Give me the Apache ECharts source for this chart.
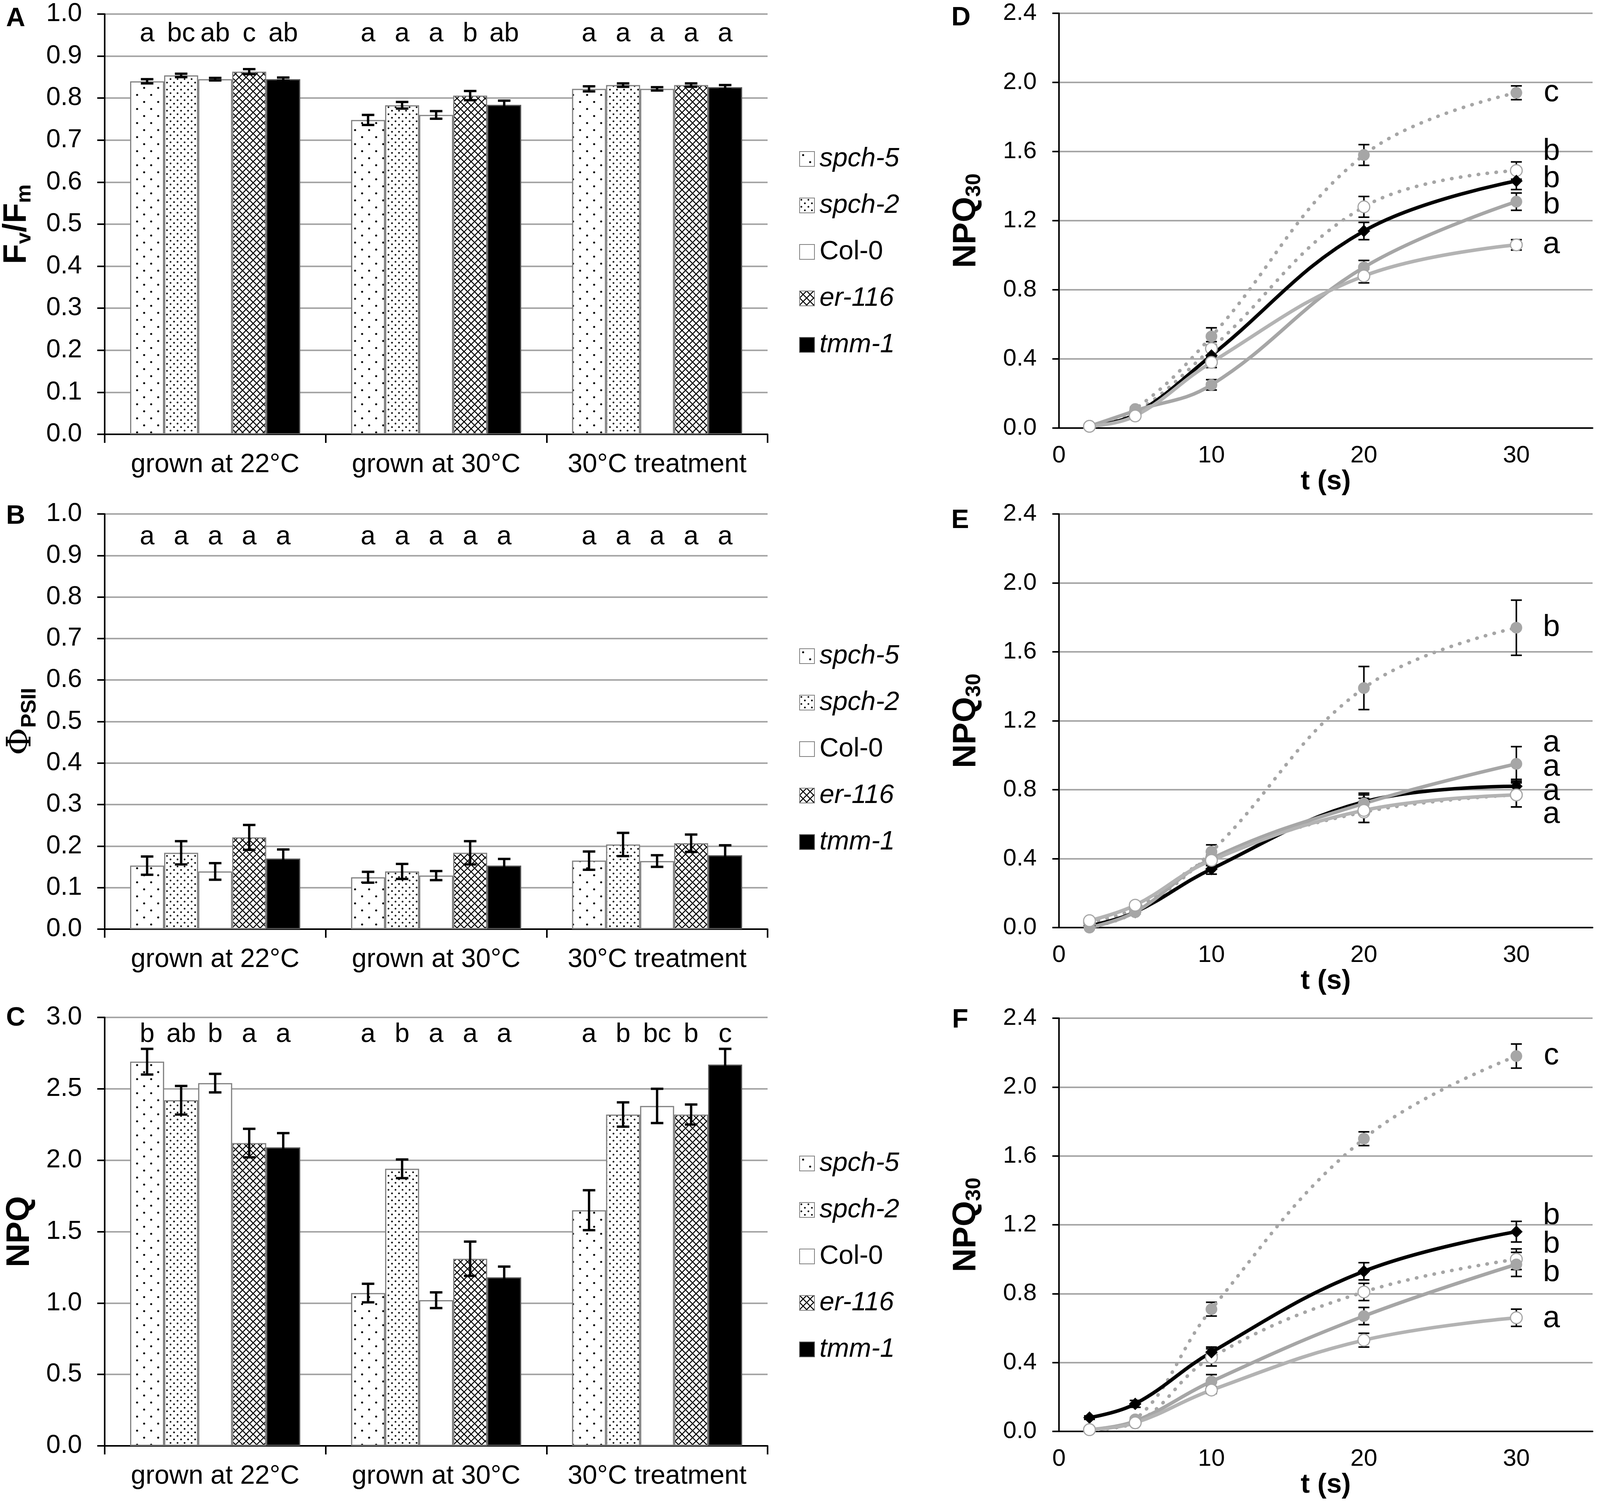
<!DOCTYPE html>
<html>
<head>
<meta charset="utf-8">
<script src="https://cdn.jsdelivr.net/npm/echarts@6/dist/echarts.min.js"></script>
<style>
html, body { margin: 0; padding: 0; background: #fff; }
#chart { width: 4550px; height: 3856px; }
</style>
</head>
<body>
<div id="chart"></div>
<script>
// genotypes and categories
let genotypes = ["spch-5", "spch-2", "Col-0", "er-116", "tmm-1"];
let conditions = ["grown at 22°C", "grown at 30°C", "30°C treatment"];
let times = [2, 5, 10, 20, 30];

// A - Fv/Fm, rows = genotype, cols = condition
let fvfmMean = [
    [0.840, 0.748, 0.822],
    [0.854, 0.783, 0.831],
    [0.845, 0.760, 0.822],
    [0.863, 0.806, 0.831],
    [0.845, 0.784, 0.826]
];
let fvfmErr = [
    [0.005, 0.012, 0.006],
    [0.004, 0.008, 0.004],
    [0.003, 0.009, 0.004],
    [0.006, 0.011, 0.004],
    [0.004, 0.010, 0.005]
];
// letters, rows = condition, cols = genotype
let fvfmLetters = [["a", "bc", "ab", "c", "ab"], ["a", "a", "a", "b", "ab"], ["a", "a", "a", "a", "a"]];

// B - PhiPSII
let psiiMean = [
    [0.153, 0.125, 0.165],
    [0.184, 0.139, 0.204],
    [0.139, 0.129, 0.164],
    [0.221, 0.184, 0.207],
    [0.170, 0.153, 0.178]
];
let psiiErr = [
    [0.022, 0.013, 0.022],
    [0.028, 0.018, 0.028],
    [0.020, 0.011, 0.014],
    [0.030, 0.028, 0.021],
    [0.022, 0.016, 0.024]
];
let psiiLetters = [["a", "a", "a", "a", "a"], ["a", "a", "a", "a", "a"], ["a", "a", "a", "a", "a"]];

// C - NPQ
let npqMean = [
    [2.69, 1.07, 1.65],
    [2.42, 1.94, 2.32],
    [2.54, 1.02, 2.38],
    [2.12, 1.31, 2.32],
    [2.09, 1.18, 2.67]
];
let npqErr = [
    [0.09, 0.065, 0.14],
    [0.10, 0.065, 0.085],
    [0.065, 0.055, 0.12],
    [0.10, 0.12, 0.07],
    [0.10, 0.075, 0.11]
];
let npqLetters = [["b", "ab", "b", "a", "a"], ["a", "b", "a", "a", "a"], ["a", "b", "bc", "b", "c"]];

// D/E/F - NPQ30 over time, rows = genotype
let npqD = [
    [0.01, 0.09, 0.46, 1.28, 1.49],
    [0.01, 0.11, 0.53, 1.58, 1.94],
    [0.01, 0.08, 0.42, 1.14, 1.43],
    [0.01, 0.10, 0.25, 0.93, 1.31],
    [0.01, 0.07, 0.38, 0.88, 1.06]
];
let npqDErr = [
    [0, 0.01, 0.04, 0.06, 0.05],
    [0, 0.01, 0.05, 0.06, 0.04],
    [0, 0.01, 0.03, 0.05, 0.05],
    [0, 0.01, 0.03, 0.04, 0.05],
    [0, 0.01, 0.03, 0.04, 0.03]
];
let npqE = [
    [0.03, 0.11, 0.40, 0.67, 0.77],
    [0.00, 0.09, 0.44, 1.39, 1.74],
    [0.01, 0.09, 0.34, 0.73, 0.82],
    [0.00, 0.09, 0.40, 0.72, 0.95],
    [0.04, 0.13, 0.39, 0.68, 0.77]
];
let npqEErr = [
    [0, 0.01, 0.04, 0.06, 0.07],
    [0, 0.01, 0.04, 0.125, 0.16],
    [0, 0.01, 0.03, 0.05, 0.04],
    [0, 0.01, 0.04, 0.05, 0.10],
    [0, 0.01, 0.03, 0.07, 0.07]
];
let npqF = [
    [0.01, 0.05, 0.43, 0.81, 1.00],
    [0.01, 0.07, 0.71, 1.70, 2.18],
    [0.08, 0.16, 0.46, 0.93, 1.16],
    [0.01, 0.06, 0.29, 0.67, 0.97],
    [0.01, 0.05, 0.24, 0.53, 0.66]
];
let npqFErr = [
    [0, 0.01, 0.05, 0.05, 0.06],
    [0, 0.01, 0.04, 0.04, 0.07],
    [0.01, 0.02, 0.03, 0.05, 0.06],
    [0, 0.01, 0.04, 0.05, 0.07],
    [0, 0.01, 0.02, 0.04, 0.05]
];
// significance letters next to the 30 s points
let lettersD = ["c", "b", "b", "b", "a"];
let lettersDY = [1.94, 1.60, 1.44, 1.29, 1.06];
let lettersE = ["b", "a", "a", "a", "a"];
let lettersEY = [1.74, 1.07, 0.93, 0.79, 0.655];
let lettersF = ["c", "b", "b", "b", "a"];
let lettersFY = [2.18, 1.25, 1.085, 0.92, 0.655];
let letterX = 32.3;

let FONT = '"Liberation Sans", Arial, sans-serif';
let GREY = "#a6a6a6";
let CAT_GAP = 0.23;

//bar fill patterns
function dotTile(size, r) {
    let c = document.createElement("canvas");
    c.width = c.height = size;
    let g = c.getContext("2d");
    g.fillStyle = "#fff";
    g.fillRect(0, 0, size, size);
    g.fillStyle = "#000";
    [[size / 4, size / 4], [size * 3 / 4, size * 3 / 4]].forEach(function (p) {
        g.beginPath();
        g.arc(p[0], p[1], r, 0, Math.PI * 2);
        g.fill();
    });
    return c;
}
function crossTile(size) {
    let c = document.createElement("canvas");
    c.width = c.height = size;
    let g = c.getContext("2d");
    g.fillStyle = "#fff";
    g.fillRect(0, 0, size, size);
    g.strokeStyle = "#000";
    g.lineWidth = 2.6;
    g.beginPath();
    g.moveTo(0, 0); g.lineTo(size, size);
    g.moveTo(size, 0); g.lineTo(0, size);
    g.stroke();
    return c;
}
let fills = [
    {image: dotTile(36, 2.6), repeat: "repeat"},
    {image: dotTile(18, 2.2), repeat: "repeat"},
    "#ffffff",
    {image: crossTile(18), repeat: "repeat"},
    "#000000"
];

let barPanels = [
    {top: 36, height: 1076, max: 1, interval: 0.1, mean: fvfmMean, err: fvfmErr, letters: fvfmLetters, letterY: 0.952,
        name: "{b|F}{s|v}{b|/F}{s|m}", nameGap: 178, legendTop: 373},
    {top: 1316, height: 1063, max: 1, interval: 0.1, mean: psiiMean, err: psiiErr, letters: psiiLetters, letterY: 0.944,
        name: "{p|Φ}{s|PSII}", nameGap: 165, legendTop: 1646},
    {top: 2605, height: 1097, max: 3, interval: 0.5, mean: npqMean, err: npqErr, letters: npqLetters, letterY: 2.88,
        name: "{b|NPQ}", nameGap: 175, legendTop: 2945}
];
let linePanels = [
    {top: 34, height: 1062, mean: npqD, err: npqDErr, letters: lettersD, letterY: lettersDY, legendTop: 358},
    {top: 1316, height: 1059, mean: npqE, err: npqEErr, letters: lettersE, letterY: lettersEY, legendTop: 1640},
    {top: 2607, height: 1058, mean: npqF, err: npqFErr, letters: lettersF, letterY: lettersFY, legendTop: 2931}
];

let nameRich = {
    b: {fontSize: 84, fontWeight: "bold", fontFamily: FONT, color: "#000"},
    s: {fontSize: 54, fontWeight: "bold", fontFamily: FONT, color: "#000", padding: [40, 0, 0, 0]},
    p: {fontSize: 86, fontFamily: '"DejaVu Serif", serif', color: "#000"}
};
let legendRich = function (size) {
    return {
        i: {fontSize: size, fontStyle: "italic", fontFamily: FONT, color: "#000", lineHeight: size + 2, padding: [0, 0, 0, 8]},
        n: {fontSize: size, fontFamily: FONT, color: "#000", lineHeight: size + 2, padding: [0, 0, 0, 8]}
    };
};
function legendName(name) {
    let g = name.split("@")[0];
    return g === "Col-0" ? "{n|" + g + "}" : "{i|" + g + "}";
}

let grid = [], xAxis = [], yAxis = [], series = [], legend = [];

barPanels.forEach(function (p, pi) {
    grid.push({left: 268, top: p.top, width: 1697, height: p.height});
    xAxis.push({
        type: "category", gridIndex: pi, data: conditions,
        axisLine: {lineStyle: {color: "#000", width: 4}},
        axisTick: {show: true, length: 22, lineStyle: {color: "#000", width: 4}},
        axisLabel: {interval: 0, fontSize: 68, fontFamily: FONT, color: "#000", margin: 44}
    });
    yAxis.push({
        type: "value", gridIndex: pi, min: 0, max: p.max, interval: p.interval,
        name: p.name, nameLocation: "middle", nameRotate: 90, nameGap: p.nameGap,
        nameTextStyle: {rich: nameRich},
        axisLine: {show: true, lineStyle: {color: "#000", width: 4}},
        axisTick: {show: true, length: 19, lineStyle: {color: "#000", width: 4}},
        axisLabel: {fontSize: 66, fontFamily: FONT, color: "#000", margin: 58,
            formatter: function (v) { return v.toFixed(1); }},
        splitLine: {lineStyle: {color: GREY, width: 4}}
    });
    let names = [];
    genotypes.forEach(function (g, k) {
        let nm = g + "@" + pi;
        names.push(nm);
        series.push({
            type: "bar", name: nm, xAxisIndex: pi, yAxisIndex: pi,
            data: p.mean[k],
            barGap: "0%", barCategoryGap: (CAT_GAP * 100) + "%",
            itemStyle: {color: fills[k], borderColor: k === 4 ? "#555" : "#808080", borderWidth: 3}
        });
    });
    //error bars and letters
    let rows = [];
    p.mean.forEach(function (vals, k) {
        vals.forEach(function (v, c) { rows.push([c, k, v, p.err[k][c]]); });
    });
    series.push({
        type: "custom", xAxisIndex: pi, yAxisIndex: pi, silent: true, z: 5,
        encode: {x: 0, y: 2},
        data: rows,
        renderItem: function (params, api) {
            let c = api.value(0), k = api.value(1), v = api.value(2), e = api.value(3);
            let band = api.size([1, 0])[0];
            let bw = band * (1 - CAT_GAP) / 5;
            let x = api.coord([c, 0])[0] + (k - 2) * bw;
            let yt = api.coord([c, v + e])[1], yb = api.coord([c, v - e])[1];
            let yl = api.coord([c, p.letterY])[1];
            let st = {stroke: "#000", lineWidth: 6};
            return {type: "group", children: [
                {type: "line", shape: {x1: x, y1: yt, x2: x, y2: yb}, style: st},
                {type: "line", shape: {x1: x - 16, y1: yt, x2: x + 16, y2: yt}, style: st},
                {type: "line", shape: {x1: x - 16, y1: yb, x2: x + 16, y2: yb}, style: st},
                {type: "text", x: x, y: yl, style: {text: p.letters[c][k], fill: "#000", fontSize: 68,
                    fontFamily: FONT, align: "center", verticalAlign: "middle"}}
            ]};
        }
    });
    legend.push({
        orient: "vertical", left: 2046, top: p.legendTop, padding: 0,
        itemWidth: 38, itemHeight: 38, itemGap: 51, icon: "rect",
        selectedMode: false, data: names, formatter: legendName,
        textStyle: {rich: legendRich(68)}
    });
});

let dots = {color: GREY, width: 9, type: [1, 22], cap: "round"};
let lineStyles = [
    {line: dots, symbol: "circle", item: {color: "#fff", borderColor: GREY, borderWidth: 3}},
    {line: dots, symbol: "circle", item: {color: GREY}},
    {line: {color: "#000", width: 9}, symbol: "diamond", item: {color: "#000"}},
    {line: {color: GREY, width: 9}, symbol: "circle", item: {color: GREY}},
    {line: {color: "#b3b3b3", width: 9}, symbol: "circle", item: {color: "#fff", borderColor: GREY, borderWidth: 3}}
];

linePanels.forEach(function (p, li) {
    let pi = li + 3;
    grid.push({left: 2711, top: p.top, width: 1366, height: p.height});
    xAxis.push({
        type: "value", gridIndex: pi, min: 0, max: 35, interval: 10,
        name: "t (s)", nameLocation: "middle", nameGap: 98,
        nameTextStyle: {fontSize: 70, fontWeight: "bold", fontFamily: FONT, color: "#000"},
        axisLine: {lineStyle: {color: "#000", width: 4}},
        axisTick: {show: false},
        splitLine: {show: false},
        axisLabel: {fontSize: 62, fontFamily: FONT, color: "#000", margin: 40, showMaxLabel: false}
    });
    yAxis.push({
        type: "value", gridIndex: pi, min: 0, max: 2.4, interval: 0.4,
        name: "{b|NPQ}{s|30}", nameLocation: "middle", nameRotate: 90, nameGap: 190,
        nameTextStyle: {rich: nameRich},
        axisLine: {show: true, lineStyle: {color: "#000", width: 4}},
        axisTick: {show: true, length: 17, lineStyle: {color: "#000", width: 4}},
        axisLabel: {fontSize: 62, fontFamily: FONT, color: "#000", margin: 57,
            formatter: function (v) { return v.toFixed(1); }},
        splitLine: {lineStyle: {color: GREY, width: 4}}
    });
    let names = [];
    genotypes.forEach(function (g, k) {
        let nm = g + "@" + pi;
        names.push(nm);
        let s = lineStyles[k];
        series.push({
            type: "line", name: nm, xAxisIndex: pi, yAxisIndex: pi,
            data: times.map(function (t, j) { return [t, p.mean[k][j]]; }),
            smooth: 0.4, symbol: s.symbol, symbolSize: k === 2 ? 32 : 30,
            lineStyle: s.line, itemStyle: s.item, z: 3
        });
    });
    let rows = [];
    p.mean.forEach(function (vals, k) {
        vals.forEach(function (v, j) {
            if (p.err[k][j] > 0) rows.push([times[j], v, p.err[k][j]]);
        });
    });
    series.push({
        type: "custom", xAxisIndex: pi, yAxisIndex: pi, silent: true, z: 2,
        encode: {x: 0, y: 1},
        data: rows,
        renderItem: function (params, api) {
            let t = api.value(0), v = api.value(1), e = api.value(2);
            let x = api.coord([t, v])[0];
            let yt = api.coord([t, v + e])[1], yb = api.coord([t, v - e])[1];
            let st = {stroke: "#000", lineWidth: 4};
            return {type: "group", children: [
                {type: "line", shape: {x1: x, y1: yt, x2: x, y2: yb}, style: st},
                {type: "line", shape: {x1: x - 14, y1: yt, x2: x + 14, y2: yt}, style: st},
                {type: "line", shape: {x1: x - 14, y1: yb, x2: x + 14, y2: yb}, style: st}
            ]};
        }
    });
    series.push({
        type: "custom", xAxisIndex: pi, yAxisIndex: pi, silent: true, z: 6,
        encode: {x: 0, y: 1},
        data: p.letterY.map(function (y) { return [letterX, y]; }),
        renderItem: function (params, api) {
            let pt = api.coord([api.value(0), api.value(1)]);
            return {type: "text", x: pt[0], y: pt[1], style: {text: p.letters[params.dataIndex], fill: "#000",
                fontSize: 78, fontFamily: FONT, align: "center", verticalAlign: "middle"}};
        }
    });
    legend.push({
        orient: "vertical", left: 4188, top: p.legendTop, padding: 0,
        itemWidth: 150, itemHeight: 36, itemGap: 32,
        selectedMode: false, data: names, formatter: legendName,
        textStyle: {rich: legendRich(62)}
    });
});

//panel letters
let panelLetters = [["A", 40, 48], ["B", 40, 1322], ["C", 40, 2607], ["D", 2460, 46], ["E", 2458, 1333], ["F", 2458, 2612]];

let myEcharts = echarts.init(document.getElementById("chart"));
myEcharts.setOption({
    animation: false,
    backgroundColor: "#fff",
    grid: grid,
    xAxis: xAxis,
    yAxis: yAxis,
    legend: legend,
    series: series,
    graphic: panelLetters.map(function (l) {
        return {type: "text", x: l[1], y: l[2], style: {text: l[0], fill: "#000", fontSize: 68, fontWeight: "bold",
            fontFamily: FONT, align: "center", verticalAlign: "middle"}};
    })
});
</script>
</body>
</html>
